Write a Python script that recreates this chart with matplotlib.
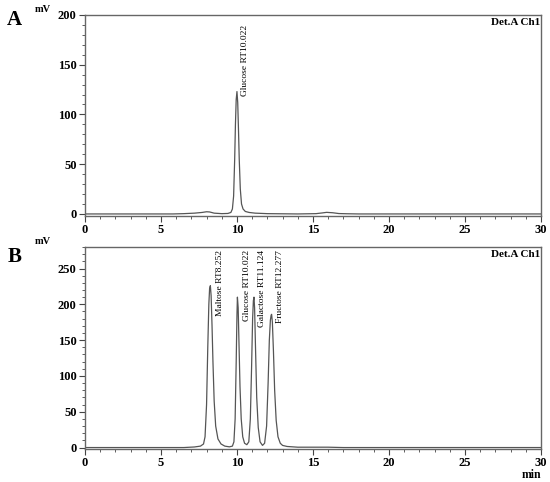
import matplotlib
matplotlib.use("Agg")
import matplotlib.pyplot as plt
from matplotlib.ticker import MultipleLocator
import numpy as np

plt.rcParams['font.family'] = ['Liberation Serif', 'DejaVu Serif']

# panel A: glucose standard (time in min, signal in mV)
t_a = [0, 5.8, 6.5, 7.2, 7.7, 8.0, 8.2, 8.5, 9.0, 9.4, 9.6, 9.7, 9.78, 9.85, 9.9, 9.95,
       10.0, 10.05, 10.1, 10.15, 10.22, 10.3, 10.4, 10.55, 10.8, 11.2, 12.0, 14.0,
       15.2, 15.6, 15.9, 16.3, 16.7, 17.2, 18.0, 30]
y_a = [0, 0, 0.3, 0.8, 1.5, 2.2, 2.0, 0.8, 0.3, 0.5, 1.5, 5, 18, 55, 90, 115,
       123, 112, 85, 55, 25, 10, 5, 2.5, 1.5, 0.8, 0.3, 0,
       0.3, 1.0, 1.6, 1.2, 0.4, 0.2, 0, 0]

# panel B: mixed sugar standard
t_b = [0, 6.5, 7.2, 7.6, 7.8, 7.9, 8.0, 8.08, 8.15, 8.2, 8.25, 8.3, 8.36, 8.42, 8.5, 8.6,
       8.75, 8.95, 9.2, 9.5, 9.7, 9.8, 9.88, 9.95, 10.0, 10.03, 10.08, 10.14, 10.2,
       10.28, 10.38, 10.5, 10.65, 10.78, 10.88, 10.96, 11.03, 11.08, 11.12, 11.16,
       11.22, 11.3, 11.4, 11.52, 11.68, 11.82, 11.95, 12.05, 12.13, 12.2, 12.25,
       12.28, 12.33, 12.4, 12.48, 12.58, 12.7, 12.85, 13.0, 13.3, 14.0, 16.0, 17.0, 30]
y_b = [0, 0, 0.8, 2, 5, 15, 60, 140, 200, 222, 226, 212, 170, 120, 65, 30,
       12, 5, 2, 1, 2, 8, 40, 120, 185, 210, 195, 140, 85,
       40, 15, 6, 4, 8, 40, 110, 180, 205, 210, 195,
       140, 70, 28, 8, 3, 6, 30, 90, 150, 178, 185,
       186, 175, 135, 80, 38, 15, 6, 3, 1.5, 0.5, 0.5, 0, 0]

labels_a = ["Glucose RT10.022"]
label_x_a = [10.53]
labels_b = ["Maltose RT8.252", "Glucose RT10.022", "Galactose RT11.124", "Fructose RT12.277"]
label_x_b = [8.88, 10.63, 11.67, 12.83]

fig = plt.figure(figsize=(5.5, 4.82), dpi=100)
ax_a = fig.add_axes([0.1545, 0.552, 0.829, 0.417])
ax_b = fig.add_axes([0.1545, 0.0685, 0.829, 0.419])

line_col = '#555555'

def style(ax, ymax, ymajor, ymin_loc):
    ax.set_xlim(0, 30)
    ax.set_ylim(-2, ymax)
    ax.xaxis.set_major_locator(MultipleLocator(5))
    ax.xaxis.set_minor_locator(MultipleLocator(1))
    ax.yaxis.set_major_locator(MultipleLocator(ymajor))
    ax.yaxis.set_minor_locator(MultipleLocator(ymin_loc))
    ax.tick_params(which='major', length=4, width=0.8, color='#444444', labelsize=9, pad=2)
    ax.tick_params(which='minor', length=2, width=0.6, color='#444444')
    for lab in ax.get_xticklabels() + ax.get_yticklabels():
        lab.set_fontweight('bold')
    for sp in ax.spines.values():
        sp.set_color('#666666')
        sp.set_linewidth(1.0)
    ax.text(0.998, 0.985, "Det.A Ch1", transform=ax.transAxes, ha='right', va='top',
            fontsize=8, fontweight='bold')

ax_a.plot(t_a, y_a, color=line_col, lw=0.9)
style(ax_a, 200, 50, 10)
for lab, x in zip(labels_a, label_x_a):
    ax_a.text(x, 190, lab, rotation=90, ha='center', va='top', fontsize=6.8)

ax_b.plot(t_b, y_b, color=line_col, lw=0.9)
style(ax_b, 280, 50, 10)
for lab, x in zip(labels_b, label_x_b):
    ax_b.text(x, 276, lab, rotation=90, ha='center', va='top', fontsize=6.8)

fig.text(0.013, 0.959, "A", fontsize=15, fontweight='bold', va='center')
fig.text(0.013, 0.467, "B", fontsize=15, fontweight='bold', va='center')
fig.text(0.064, 0.981, "mV", fontsize=7.5, fontweight='bold', va='center')
fig.text(0.064, 0.499, "mV", fontsize=7.5, fontweight='bold', va='center')
fig.text(0.985, 0.002, "min", fontsize=8.5, fontweight='bold', ha='right', va='bottom')

fig.savefig("out.png", dpi=100)
